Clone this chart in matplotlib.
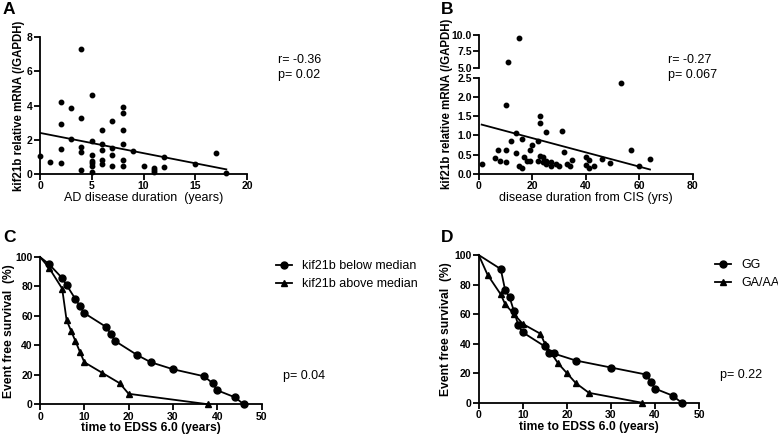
import numpy as np
import matplotlib
matplotlib.use('Agg')
import matplotlib.pyplot as plt
from matplotlib.lines import Line2D

plt.rcParams['font.family'] = ['Liberation Sans', 'DejaVu Sans']

# panel A: AD disease duration vs kif21b
a_x = [0, 1, 2, 2, 2, 2, 3, 3, 4, 4, 4, 4, 4, 5, 5, 5, 5, 5, 5, 5,
       6, 6, 6, 6, 6, 7, 7, 7, 7, 8, 8, 8, 8, 8, 8, 9, 10, 11, 11, 11,
       12, 12, 15, 17, 18]
a_y = [1.05, 0.70, 4.18, 2.94, 1.48, 0.66, 3.85, 2.04, 7.28, 3.25, 1.56, 1.28, 0.22,
       4.61, 1.93, 1.09, 0.77, 0.64, 0.46, 0.12,
       2.59, 1.73, 1.38, 0.84, 0.58, 3.07, 1.52, 1.13, 0.45,
       3.89, 3.54, 2.57, 1.77, 0.80, 0.45, 1.34, 0.48, 0.35, 0.21, 0.10,
       0.97, 0.39, 0.60, 1.21, 0.05]
a_fit = (2.40, -0.1183)   # intercept, slope

# panel B: disease duration from CIS vs kif21b
b_x = [1, 6, 7, 8, 10, 10, 10, 12, 14, 14, 15, 16, 16, 17, 18, 19, 19, 20,
       22, 22, 23, 23, 23, 24, 24, 25, 25, 25, 27, 27, 29, 30, 31, 32, 33, 34, 35,
       40, 40, 41, 41, 43, 46, 49, 53, 57, 60, 64, 11, 15]
b_y = [0.24, 0.42, 0.61, 0.33, 1.80, 0.63, 0.30, 0.85, 1.07, 0.55, 0.21, 0.16, 0.90,
       0.44, 0.33, 0.61, 0.33, 0.75, 0.86, 0.33, 1.50, 1.32, 0.47, 0.44, 0.31,
       1.09, 0.33, 0.26, 0.31, 0.19, 0.25, 0.19, 1.11, 0.57, 0.26, 0.21, 0.35,
       0.44, 0.23, 0.35, 0.14, 0.21, 0.38, 0.27, 2.35, 0.61, 0.19, 0.38, 5.85, 9.55]
b_fit = (1.297, -0.01855)

# panel C: survival by kif21b level
c_below_t = [0, 2, 5, 6, 8, 9, 10, 15, 16, 17, 22, 25, 30, 37, 39, 40, 44, 46]
c_below_s = [100, 95.24, 85.71, 80.95, 71.43, 66.67, 61.90, 52.38, 47.62, 42.86,
             33.33, 28.57, 23.81, 19.05, 14.29, 9.52, 4.76, 0]
c_above_t = [0, 2, 5, 6, 7, 8, 9, 10, 14, 18, 20, 38]
c_above_s = [100, 92.86, 78.57, 57.14, 50.0, 42.86, 35.71, 28.57, 21.43, 14.29, 7.14, 0]

# panel D: survival by genotype
d_gg_t = [0, 5, 6, 7, 8, 9, 10, 15, 16, 17, 22, 30, 38, 39, 40, 44, 46]
d_gg_s = [100, 90.48, 76.19, 71.43, 61.90, 52.38, 47.62, 38.10, 33.33, 33.33,
          28.57, 23.81, 19.05, 14.29, 9.52, 4.76, 0]
d_ga_t = [0, 2, 5, 6, 8, 10, 14, 15, 18, 20, 22, 25, 37]
d_ga_s = [100, 86.67, 73.33, 66.67, 60.0, 53.33, 46.67, 40.0, 26.67, 20.0, 13.33, 6.67, 0]

W, H = 778, 440
fig = plt.figure(figsize=(W / 100, H / 100), dpi=100)


def box(l, r, t, b):
    return [l / W, 1 - b / H, (r - l) / W, (b - t) / H]


def style(ax, bottom=True):
    for s in ['top', 'right']:
        ax.spines[s].set_visible(False)
    for s in ['left', 'bottom']:
        ax.spines[s].set_linewidth(1.3)
    ax.tick_params(direction='out', length=4, width=1.3, labelsize=7.5, pad=1.2)
    for lab in ax.get_xticklabels() + ax.get_yticklabels():
        lab.set_fontweight('bold')
    if not bottom:
        ax.spines['bottom'].set_visible(False)
        ax.tick_params(axis='x', bottom=False, labelbottom=False)


def place_ylabel(ax, yl_x):
    # y label centred at a pixel column of the figure
    l, b, w, h = ax.get_position().bounds
    ax.yaxis.set_label_coords((yl_x / W - l) / w, 0.5)
    ax.yaxis.label.set_va('center')


# ---- A
axA = fig.add_axes(box(40, 247, 37, 174))
axA.plot(a_x, a_y, 'o', color='black', ms=3.2, clip_on=False)
xf = np.array([min(a_x), max(a_x)])
axA.plot(xf, a_fit[0] + a_fit[1] * xf, color='black', lw=1.3)
axA.set_xlim(0, 20)
axA.set_ylim(0, 8)
axA.set_xticks([0, 5, 10, 15, 20])
axA.set_yticks([0, 2, 4, 6, 8])
style(axA)
axA.set_xlabel('AD disease duration  (years)', fontsize=9, labelpad=0.5)
axA.set_ylabel('kif21b relative mRNA (/GAPDH)', fontsize=8.3, fontweight='bold')
place_ylabel(axA, 19)
fig.text(278 / W, 1 - 60 / H, 'r= -0.36', fontsize=9, va='center')
fig.text(278 / W, 1 - 75 / H, 'p= 0.02', fontsize=9, va='center')

# ---- B (broken y axis)
axBt = fig.add_axes(box(479, 692.7, 34.7, 67.7))
axBb = fig.add_axes(box(479, 692.7, 77.7, 173.7))
b_x = np.array(b_x)
b_y = np.array(b_y)
hi = b_y > 2.5
axBt.plot(b_x[hi], b_y[hi], 'o', color='black', ms=3.2, clip_on=False)
axBb.plot(b_x[~hi], b_y[~hi], 'o', color='black', ms=3.2, clip_on=False)
xf = np.array([b_x.min(), b_x.max()])
axBb.plot(xf, b_fit[0] + b_fit[1] * xf, color='black', lw=1.3)
for ax in (axBt, axBb):
    ax.set_xlim(0, 80)
axBt.set_ylim(5, 10)
axBt.set_yticks([5, 7.5, 10])
axBb.set_ylim(0, 2.5)
axBb.set_yticks([0, 0.5, 1.0, 1.5, 2.0, 2.5])
axBb.set_xticks([0, 20, 40, 60, 80])
axBt.yaxis.set_major_formatter('{x:.1f}')
axBb.yaxis.set_major_formatter('{x:.1f}')
style(axBt, bottom=False)
style(axBb)
axBb.set_xlabel('disease duration from CIS (yrs)', fontsize=9, labelpad=0.5)
fig.text(447 / W, 1 - 104 / H, 'kif21b relative mRNA (/GAPDH)', fontsize=8.3,
         fontweight='bold', rotation=90, ha='center', va='center')
fig.text(668 / W, 1 - 60 / H, 'r= -0.27', fontsize=9, va='center')
fig.text(668 / W, 1 - 75 / H, 'p= 0.067', fontsize=9, va='center')

# ---- C
axC = fig.add_axes(box(40, 261.5, 257, 404.3))
axC.plot(c_below_t, c_below_s, '-o', color='black', lw=1.3, ms=5, clip_on=False,
         markevery=list(range(1, len(c_below_t))))
axC.plot(c_above_t, c_above_s, '-^', color='black', lw=1.3, ms=5, clip_on=False,
         markevery=list(range(1, len(c_above_t))))
axC.set_xlim(0, 50)
axC.set_ylim(0, 100)
axC.set_xticks([0, 10, 20, 30, 40, 50])
axC.set_yticks([0, 20, 40, 60, 80, 100])
style(axC)
axC.set_xlabel('time to EDSS 6.0 (years)', fontsize=8.7, fontweight='bold', labelpad=0.5)
axC.set_ylabel('Event free survival  (%)', fontsize=8.7, fontweight='bold')
place_ylabel(axC, 9)
hC = [Line2D([], [], color='black', marker='o', ms=5, lw=1.3),
      Line2D([], [], color='black', marker='^', ms=5, lw=1.3)]
fig.legend(hC, ['kif21b below median', 'kif21b above median'], frameon=False,
           loc='center left', bbox_to_anchor=(276 / W, 1 - 275 / H), borderaxespad=0,
           borderpad=0, handlelength=1.3, handletextpad=0.8, labelspacing=0.5, fontsize=9)
fig.text(283 / W, 1 - 376 / H, 'p= 0.04', fontsize=9, va='center')

# ---- D
axD = fig.add_axes(box(478.7, 699.2, 255, 402.7))
axD.plot(d_gg_t, d_gg_s, '-o', color='black', lw=1.3, ms=5, clip_on=False,
         markevery=list(range(1, len(d_gg_t))))
axD.plot(d_ga_t, d_ga_s, '-^', color='black', lw=1.3, ms=5, clip_on=False,
         markevery=list(range(1, len(d_ga_t))))
axD.set_xlim(0, 50)
axD.set_ylim(0, 100)
axD.set_xticks([0, 10, 20, 30, 40, 50])
axD.set_yticks([0, 20, 40, 60, 80, 100])
style(axD)
axD.set_xlabel('time to EDSS 6.0 (years)', fontsize=8.7, fontweight='bold', labelpad=0.5)
axD.set_ylabel('Event free survival  (%)', fontsize=8.7, fontweight='bold')
place_ylabel(axD, 446)
fig.legend(hC, ['GG', 'GA/AA'], frameon=False,
           loc='center left', bbox_to_anchor=(715 / W, 1 - 274 / H), borderaxespad=0,
           borderpad=0, handlelength=1.3, handletextpad=0.8, labelspacing=0.5, fontsize=9)
fig.text(720 / W, 1 - 375 / H, 'p= 0.22', fontsize=9, va='center')

# panel letters
for lbl, px, py in [('A', 3, 10), ('B', 441, 10), ('C', 3, 237), ('D', 441, 237)]:
    fig.text(px / W, 1 - py / H, lbl, fontsize=12.5, fontweight='bold', va='center')

fig.savefig('out.png', dpi=100)
